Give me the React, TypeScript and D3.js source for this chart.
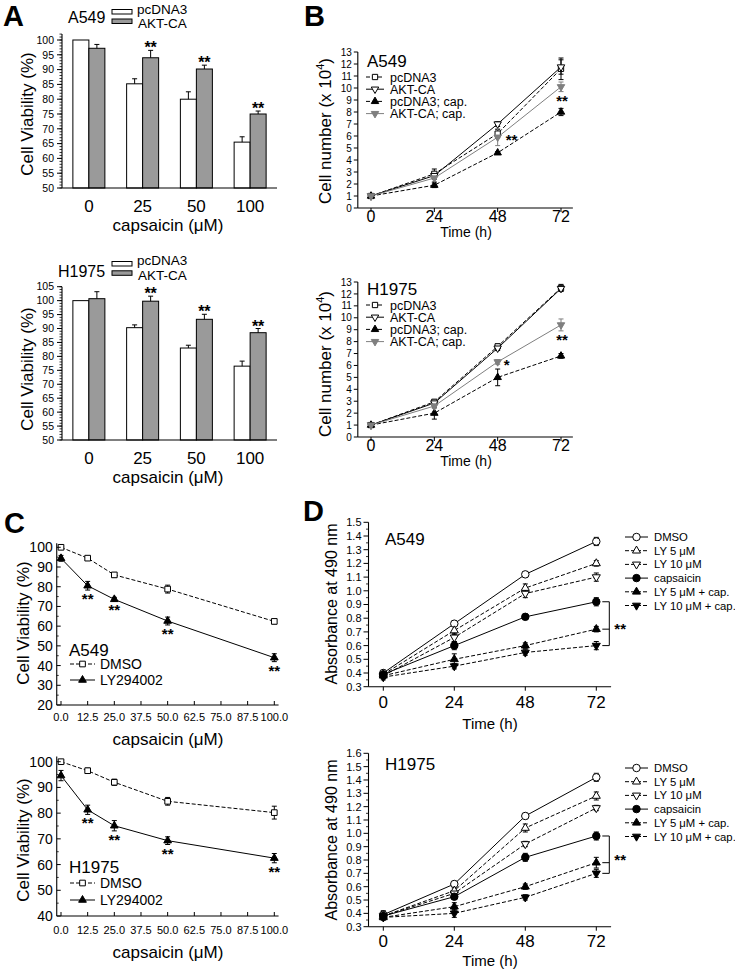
import React from "react";
import * as d3 from "d3";

const FONT = "Arial, 'Liberation Sans', Helvetica, sans-serif";
const GRAY_BAR = "#9a9a9a";
const GRAY_LINE = "#7f7f7f";

// ---------------- Panel A data ----------------
const doseLabels = ["0", "25", "50", "100"];
const barGroups = ["pcDNA3", "AKT-CA"];
const barA549Pc = [100, 85.2, 80.0, 65.5];
const barA549PcErr = [0, 1.7, 2.5, 1.8];
const barA549Akt = [97.2, 94.0, 90.2, 75.0];
const barA549AktErr = [1.3, 2.5, 1.3, 1.0];
const barA549Sig = ["", "**", "**", "**"];
const barH1975Pc = [100, 90.3, 83.0, 76.5];
const barH1975PcErr = [0, 1.0, 1.0, 1.8];
const barH1975Akt = [100.7, 99.8, 93.3, 88.5];
const barH1975AktErr = [2.5, 1.8, 1.8, 1.5];
const barH1975Sig = ["", "**", "**", "**"];
const barTicksA549 = [50, 55, 60, 65, 70, 75, 80, 85, 90, 95, 100];
const barTicksH1975 = [50, 55, 60, 65, 70, 75, 80, 85, 90, 95, 100, 105];

// ---------------- Panel B data ----------------
const hours = [0, 24, 48, 72];
const growthNames = ["pcDNA3", "AKT-CA", "pcDNA3; cap.", "AKT-CA; cap."];
const growthA549Pc = [1.0, 2.85, 6.2, 11.6];
const growthA549PcErr = [0.1, 0.4, 0.35, 0.9];
const growthA549Akt = [1.0, 2.7, 7.0, 11.75];
const growthA549AktErr = [0.1, 0.3, 0.2, 0.6];
const growthA549PcCap = [1.0, 1.9, 4.6, 8.0];
const growthA549PcCapErr = [0.1, 0.2, 0.1, 0.3];
const growthA549AktCap = [1.0, 2.5, 5.9, 10.1];
const growthA549AktCapErr = [0.1, 0.3, 0.7, 0.4];
const growthA549Sig = ["", "", "**", "**"];
const growthH1975Pc = [1.0, 2.95, 7.6, 12.5];
const growthH1975PcErr = [0.1, 0.2, 0.2, 0.3];
const growthH1975Akt = [1.0, 2.85, 7.45, 12.45];
const growthH1975AktErr = [0.1, 0.2, 0.2, 0.2];
const growthH1975PcCap = [1.0, 2.0, 5.0, 6.8];
const growthH1975PcCapErr = [0.1, 0.5, 0.7, 0.2];
const growthH1975AktCap = [1.0, 2.6, 6.3, 9.4];
const growthH1975AktCapErr = [0.1, 0.2, 0.2, 0.5];
const growthH1975Sig = ["", "", "*", "**"];
const growthTicks = [0, 1, 2, 3, 4, 5, 6, 7, 8, 9, 10, 11, 12, 13];

// ---------------- Panel C data ----------------
const doses = [0, 12.5, 25, 50, 100];
const doseTicks = [0, 12.5, 25, 37.5, 50, 62.5, 75, 87.5, 100];
const lyNames = ["DMSO", "LY294002"];
const lyA549Dmso = [100, 94.5, 86.0, 78.8, 62.4];
const lyA549DmsoErr = [0.5, 1.0, 1.2, 2.0, 1.2];
const lyA549Ly = [94.4, 80.5, 73.6, 62.6, 44.0];
const lyA549LyErr = [1.5, 2.2, 1.0, 2.0, 2.0];
const lyA549Sig = ["", "**", "**", "**", "**"];
const lyH1975Dmso = [100, 96.5, 92.0, 84.6, 80.2];
const lyH1975DmsoErr = [0.5, 1.0, 1.2, 1.5, 2.5];
const lyH1975Ly = [94.6, 81.3, 75.1, 69.3, 62.5];
const lyH1975LyErr = [2.0, 1.8, 2.0, 1.5, 1.8];
const lyH1975Sig = ["", "**", "**", "**", "**"];
const lyTicksA549 = [20, 30, 40, 50, 60, 70, 80, 90, 100];
const lyTicksH1975 = [40, 50, 60, 70, 80, 90, 100];

// ---------------- Panel D data ----------------
const absNames = ["DMSO", "LY 5 μM", "LY 10 μM", "capsaicin", "LY 5 μM + cap.", "LY 10 μM + cap."];
const absA549Dmso = [0.40, 0.76, 1.12, 1.36];
const absA549Ly5 = [0.39, 0.71, 1.02, 1.20];
const absA549Ly10 = [0.38, 0.66, 0.98, 1.10];
const absA549Cap = [0.39, 0.60, 0.81, 0.92];
const absA549Ly5Cap = [0.38, 0.50, 0.60, 0.72];
const absA549Ly10Cap = [0.37, 0.45, 0.55, 0.60];
const absA549DmsoErr = [0.02, 0.02, 0.02, 0.03];
const absA549Ly5Err = [0.02, 0.03, 0.03, 0.02];
const absA549Ly10Err = [0.02, 0.03, 0.03, 0.03];
const absA549CapErr = [0.02, 0.03, 0.02, 0.03];
const absA549Ly5CapErr = [0.02, 0.04, 0.02, 0.02];
const absA549Ly10CapErr = [0.02, 0.02, 0.02, 0.03];
const absH1975Dmso = [0.39, 0.62, 1.13, 1.42];
const absH1975Ly5 = [0.38, 0.57, 1.04, 1.28];
const absH1975Ly10 = [0.38, 0.55, 0.92, 1.19];
const absH1975Cap = [0.38, 0.525, 0.82, 0.98];
const absH1975Ly5Cap = [0.37, 0.45, 0.60, 0.78];
const absH1975Ly10Cap = [0.37, 0.40, 0.52, 0.70];
const absH1975DmsoErr = [0.03, 0.02, 0.02, 0.03];
const absH1975Ly5Err = [0.02, 0.02, 0.03, 0.03];
const absH1975Ly10Err = [0.02, 0.02, 0.02, 0.02];
const absH1975CapErr = [0.02, 0.02, 0.03, 0.03];
const absH1975Ly5CapErr = [0.02, 0.03, 0.02, 0.04];
const absH1975Ly10CapErr = [0.02, 0.03, 0.02, 0.03];
const absTicksA549 = [0.3, 0.4, 0.5, 0.6, 0.7, 0.8, 0.9, 1.0, 1.1, 1.2, 1.3, 1.4, 1.5];
const absTicksH1975 = [0.3, 0.4, 0.5, 0.6, 0.7, 0.8, 0.9, 1.0, 1.1, 1.2, 1.3, 1.4, 1.5, 1.6];

// ---------------- helpers ----------------
type Lin = d3.ScaleLinear<number, number>;
interface Style {
  shape: string;
  fill: string;
  stroke: string;
  dash?: string;
  area: number;
}

function symPath(shape: string, area: number) {
  const t = shape === "circle" ? d3.symbolCircle : shape === "square" ? d3.symbolSquare : d3.symbolTriangle;
  return d3.symbol().type(t).size(area)() as string;
}

function Marker({ st, x, y }: { st: Style; x: number; y: number }) {
  const rot = st.shape === "triDown" ? 180 : 0;
  return (
    <path
      d={symPath(st.shape, st.area)}
      transform={`translate(${x},${y}) rotate(${rot})`}
      fill={st.fill}
      stroke={st.stroke}
      strokeWidth={1}
    />
  );
}

function YAxis(props: {
  ys: Lin; x: number; ticks: number[]; minor?: number[]; fmt?: (v: number) => string;
  fs: number; len?: number; minLen?: number; inward?: boolean; top: number; bottom: number; gap?: number;
}) {
  const { ys, x, ticks, minor = [], fmt = (v) => String(v), fs, len = 4, minLen = 2, inward = false, top, bottom, gap = 3 } = props;
  const d = inward ? 1 : -1;
  const labelX = x - (inward ? 0 : len) - gap;
  return (
    <g>
      {minor.map((v, i) => (
        <line key={"m" + i} x1={x} x2={x + d * minLen} y1={ys(v)} y2={ys(v)} stroke="#000" strokeWidth={0.8} />
      ))}
      {ticks.map((v, i) => (
        <g key={i}>
          <line x1={x} x2={x + d * len} y1={ys(v)} y2={ys(v)} stroke="#000" strokeWidth={1} />
          <text x={labelX} y={ys(v)} dy="0.36em" textAnchor="end" fontSize={fs}>
            {fmt(v)}
          </text>
        </g>
      ))}
      <line x1={x} x2={x} y1={ys(top)} y2={ys(bottom)} stroke="#000" strokeWidth={1.1} />
    </g>
  );
}

function XAxis(props: {
  xs: Lin; y: number; ticks: number[]; fmt?: (v: number) => string; fs: number; len?: number;
  inward?: boolean; from: number; to: number; labelY: number;
}) {
  const { xs, y, ticks, fmt = (v) => String(v), fs, len = 4, inward = false, from, to, labelY } = props;
  const d = inward ? -1 : 1;
  return (
    <g>
      {ticks.map((v, i) => (
        <g key={i}>
          <line x1={xs(v)} x2={xs(v)} y1={y} y2={y + d * len} stroke="#000" strokeWidth={1} />
          <text x={xs(v)} y={labelY} textAnchor="middle" fontSize={fs}>
            {fmt(v)}
          </text>
        </g>
      ))}
      <line x1={xs(from)} x2={xs(to)} y1={y} y2={y} stroke="#000" strokeWidth={1.1} />
    </g>
  );
}

interface SeriesDef {
  values: number[];
  errs: number[];
  st: Style;
  name: string;
}

function Plot({ xs, ys, xv, series, cap = 2.5 }: { xs: Lin; ys: Lin; xv: number[]; series: SeriesDef[]; cap?: number }) {
  return (
    <g>
      {series.map((s, k) => {
        const line = d3
          .line<number>()
          .x((_, i) => xs(xv[i]))
          .y((v) => ys(v));
        return <path key={"l" + k} d={line(s.values) as string} fill="none" stroke={s.st.stroke} strokeWidth={1} strokeDasharray={s.st.dash} />;
      })}
      {series.map((s, k) =>
        s.values.map((v, i) => {
          const x = xs(xv[i]);
          const y1 = ys(v - s.errs[i]);
          const y2 = ys(v + s.errs[i]);
          return (
            <g key={"e" + k + "_" + i} stroke={s.st.stroke} strokeWidth={1}>
              <line x1={x} x2={x} y1={y1} y2={y2} />
              <line x1={x - cap} x2={x + cap} y1={y1} y2={y1} />
              <line x1={x - cap} x2={x + cap} y1={y2} y2={y2} />
            </g>
          );
        })
      )}
      {series.map((s, k) =>
        s.values.map((v, i) => <Marker key={"p" + k + "_" + i} st={s.st} x={xs(xv[i])} y={ys(v)} />)
      )}
    </g>
  );
}

function LegendRow({ x1, x2, y, tx, label, st, fs }: { x1: number; x2: number; y: number; tx: number; label: string; st: Style; fs: number }) {
  return (
    <g>
      <line x1={x1} x2={x2} y1={y} y2={y} stroke={st.stroke} strokeWidth={1} strokeDasharray={st.dash} />
      <Marker st={st} x={(x1 + x2) / 2} y={y} />
      <text x={tx} y={y} dy="0.36em" fontSize={fs}>
        {label}
      </text>
    </g>
  );
}

// ---------------- Panel A ----------------
function BarPanel(p: {
  yMax: number; yMaxPx: number; yBottom: number; axisTop: number; ticks: number[];
  title: string; titleX: number; titleY: number; legY: number[]; legTextY: number[];
  pc: number[]; pcErr: number[]; akt: number[]; aktErr: number[]; sig: string[];
  xLabY: number; capY: number; yLabY: number;
}) {
  const ys = d3.scaleLinear().domain([50, p.yMax]).range([p.yBottom, p.yMaxPx]);
  const xb = d3.scaleBand<string>().domain(doseLabels).range([62, 277]);
  const sub = d3.scaleBand<string>().domain(barGroups).range([0, 32]);
  const minor = d3.range(50, p.axisTop + 0.01, 1);
  const sets = [
    { vals: p.pc, errs: p.pcErr, fill: "#fff", g: barGroups[0] },
    { vals: p.akt, errs: p.aktErr, fill: GRAY_BAR, g: barGroups[1] },
  ];
  return (
    <g>
      {sets.map((s, k) =>
        s.vals.map((v, i) => {
          const x0 = (xb(doseLabels[i]) as number) + xb.bandwidth() / 2 - 16 + (sub(s.g) as number);
          const w = sub.bandwidth();
          const cx = x0 + w / 2;
          const top = ys(v + s.errs[i]);
          return (
            <g key={k + "_" + i}>
              <rect x={x0} y={ys(v)} width={w} height={ys(50) - ys(v)} fill={s.fill} stroke="#000" strokeWidth={1} />
              {s.errs[i] > 0 && (
                <g stroke="#000" strokeWidth={1}>
                  <line x1={cx} x2={cx} y1={ys(v)} y2={top} />
                  <line x1={cx - 2.5} x2={cx + 2.5} y1={top} y2={top} />
                </g>
              )}
              {k === 1 && p.sig[i] && (
                <text x={cx} y={top + 3} textAnchor="middle" fontSize={16} fontWeight="bold">
                  {p.sig[i]}
                </text>
              )}
            </g>
          );
        })
      )}
      <YAxis ys={ys} x={62} ticks={p.ticks} minor={minor} fs={10.5} len={5} minLen={2.5} top={p.axisTop} bottom={50} gap={3} />
      <line x1={62} x2={277} y1={ys(50)} y2={ys(50)} stroke="#000" strokeWidth={1.1} />
      {doseLabels.map((d, i) => (
        <text key={i} x={(xb(d) as number) + xb.bandwidth() / 2} y={p.xLabY} textAnchor="middle" fontSize={17}>
          {d}
        </text>
      ))}
      <text x={168} y={p.capY} textAnchor="middle" fontSize={17}>
        capsaicin (μM)
      </text>
      <text transform={`translate(33,${p.yLabY}) rotate(-90)`} textAnchor="middle" fontSize={17}>
        Cell Viability (%)
      </text>
      <text x={p.titleX} y={p.titleY} fontSize={16}>
        {p.title}
      </text>
      <rect x={112} y={p.legY[0]} width={20} height={4.5} fill="#fff" stroke="#000" strokeWidth={1} />
      <rect x={112} y={p.legY[1]} width={20} height={4.5} fill={GRAY_BAR} stroke="#000" strokeWidth={1} />
      <text x={137} y={p.legTextY[0]} fontSize={13.5}>
        {barGroups[0]}
      </text>
      <text x={138} y={p.legTextY[1]} fontSize={13.5}>
        {barGroups[1]}
      </text>
    </g>
  );
}

// ---------------- Panel B ----------------
const bStyles: Style[] = [
  { shape: "square", fill: "#fff", stroke: "#000", dash: "4,2", area: 28 },
  { shape: "triDown", fill: "#fff", stroke: "#000", area: 24 },
  { shape: "triUp", fill: "#000", stroke: "#000", dash: "4,2", area: 24 },
  { shape: "triDown", fill: GRAY_LINE, stroke: GRAY_LINE, area: 24 },
];

function GrowthPanel(p: {
  y0: number; y13: number; title: string; titleY: number; legY0: number;
  data: number[][]; errs: number[][]; sig: string[]; xLabY: number; timeY: number; yLabY: number;
}) {
  const xs = d3.scaleLinear().domain([0, 72]).range([371, 561]);
  const ys = d3.scaleLinear().domain([0, 13]).range([p.y0, p.y13]);
  const series: SeriesDef[] = p.data.map((d, k) => ({ values: d, errs: p.errs[k], st: bStyles[k], name: growthNames[k] }));
  const capSeries = p.data[3];
  const capErr = p.errs[3];
  return (
    <g>
      <Plot xs={xs} ys={ys} xv={hours} series={series} cap={2.5} />
      <YAxis ys={ys} x={xs(-5)} ticks={growthTicks} fs={10} len={4} top={13} bottom={0} gap={2} />
      <XAxis xs={xs} y={p.y0} ticks={hours} fs={16} len={4} from={-5} to={76.5} labelY={p.xLabY} />
      {p.sig.map((s, i) => {
        if (!s) return null;
        const px = xs(hours[i]);
        if (i === 2) {
          return (
            <text key={i} x={px + (s.length > 1 ? 8 : 6)} y={ys(capSeries[i]) + 8} fontSize={15} fontWeight="bold">
              {s}
            </text>
          );
        }
        return (
          <text key={i} x={px + 1} y={ys(capSeries[i] - capErr[i]) + 14} textAnchor="middle" fontSize={15} fontWeight="bold">
            {s}
          </text>
        );
      })}
      <text x={466} y={p.timeY} textAnchor="middle" fontSize={14}>
        Time (h)
      </text>
      <text transform={`translate(331,${p.yLabY}) rotate(-90)`} textAnchor="middle" fontSize={17}>
        Cell number (x 10
        <tspan dy={-7} fontSize={11}>
          4
        </tspan>
        <tspan dy={7}>)</tspan>
      </text>
      <text x={367} y={p.titleY} fontSize={17}>
        {p.title}
      </text>
      {growthNames.map((n, k) => (
        <LegendRow key={k} x1={366} x2={384} y={p.legY0 + k * 12.2} tx={390} label={n} st={bStyles[k]} fs={12.5} />
      ))}
    </g>
  );
}

// ---------------- Panel C ----------------
const cStyles: Style[] = [
  { shape: "square", fill: "#fff", stroke: "#000", dash: "4,2", area: 32 },
  { shape: "triUp", fill: "#000", stroke: "#000", area: 26 },
];

function LyPanel(p: {
  yMin: number; yMinPx: number; y100Px: number; ticks: number[]; title: string; titleY: number;
  legY: number[]; data: number[][]; errs: number[][]; sig: string[]; xLabY: number; capY: number; yLabY: number;
}) {
  const xs = d3.scaleLinear().domain([0, 100]).range([61, 274.3]);
  const ys = d3.scaleLinear().domain([p.yMin, 100]).range([p.yMinPx, p.y100Px]);
  const series: SeriesDef[] = p.data.map((d, k) => ({ values: d, errs: p.errs[k], st: cStyles[k], name: lyNames[k] }));
  const minor = d3.range(p.yMin + 5, 101, 10);
  const fmt = (v: number) => v.toFixed(1);
  return (
    <g>
      <Plot xs={xs} ys={ys} xv={doses} series={series} cap={2.5} />
      <YAxis ys={ys} x={xs(-2)} ticks={p.ticks} minor={minor} fs={14} len={4} minLen={2} inward top={102} bottom={p.yMin} gap={4} />
      <XAxis xs={xs} y={p.yMinPx} ticks={doseTicks} fmt={fmt} fs={11} len={4} inward from={-2} to={102} labelY={p.xLabY} />
      {p.sig.map((s, i) =>
        s ? (
          <text key={i} x={xs(doses[i])} y={ys(p.data[1][i] - p.errs[1][i]) + 14} textAnchor="middle" fontSize={15} fontWeight="bold">
            {s}
          </text>
        ) : null
      )}
      <text x={168} y={p.capY} textAnchor="middle" fontSize={17}>
        capsaicin (μM)
      </text>
      <text transform={`translate(29,${p.yLabY}) rotate(-90)`} textAnchor="middle" fontSize={17}>
        Cell Viability (%)
      </text>
      <text x={69} y={p.titleY} fontSize={17}>
        {p.title}
      </text>
      {lyNames.map((n, k) => (
        <LegendRow key={k} x1={70} x2={95} y={p.legY[k]} tx={100} label={n} st={cStyles[k]} fs={14} />
      ))}
    </g>
  );
}

// ---------------- Panel D ----------------
const dStyles: Style[] = [
  { shape: "circle", fill: "#fff", stroke: "#000", area: 44 },
  { shape: "triUp", fill: "#fff", stroke: "#000", dash: "4,2", area: 28 },
  { shape: "triDown", fill: "#fff", stroke: "#000", dash: "4,2", area: 28 },
  { shape: "circle", fill: "#000", stroke: "#000", area: 44 },
  { shape: "triUp", fill: "#000", stroke: "#000", dash: "4,2", area: 28 },
  { shape: "triDown", fill: "#000", stroke: "#000", dash: "4,2", area: 28 },
];

function AbsPanel(p: {
  yMax: number; yMaxPx: number; y03Px: number; ticks: number[]; title: string; titleY: number; legY0: number;
  data: number[][]; errs: number[][]; xLabY: number; timeY: number; yLabY: number;
}) {
  const xs = d3.scaleLinear().domain([0, 72]).range([383.3, 596.3]);
  const ys = d3.scaleLinear().domain([0.3, p.yMax]).range([p.y03Px, p.yMaxPx]);
  const series: SeriesDef[] = p.data.map((d, k) => ({ values: d, errs: p.errs[k], st: dStyles[k], name: absNames[k] }));
  const minor = d3.range(0.35, p.yMax, 0.1);
  const fmt = (v: number) => v.toFixed(1);
  const bx = xs(72);
  const yA = ys(p.data[3][3]);
  const yB = ys(p.data[4][3]);
  const yC = ys(p.data[5][3]);
  return (
    <g>
      <Plot xs={xs} ys={ys} xv={hours} series={series} cap={2.5} />
      <YAxis ys={ys} x={xs(-5)} ticks={p.ticks} minor={minor} fmt={fmt} fs={11} len={5} minLen={2.5} top={p.yMax} bottom={0.3} gap={2} />
      <XAxis xs={xs} y={p.y03Px} ticks={hours} fs={17} len={4} from={-5} to={77} labelY={p.xLabY} />
      <g stroke="#000" strokeWidth={1} fill="none">
        <line x1={bx + 6} x2={bx + 13} y1={yA} y2={yA} />
        <line x1={bx + 6} x2={bx + 13} y1={yB} y2={yB} />
        <line x1={bx + 6} x2={bx + 13} y1={yC} y2={yC} />
        <line x1={bx + 13} x2={bx + 13} y1={yA} y2={yC} />
      </g>
      <text x={bx + 18} y={(yA + yC) / 2 + 10} fontSize={15} fontWeight="bold">
        **
      </text>
      <text x={490} y={p.timeY} textAnchor="middle" fontSize={15}>
        Time (h)
      </text>
      <text transform={`translate(337,${p.yLabY}) rotate(-90)`} textAnchor="middle" fontSize={16}>
        Absorbance at 490 nm
      </text>
      <text x={385} y={p.titleY} fontSize={17}>
        {p.title}
      </text>
      {absNames.map((n, k) => (
        <LegendRow key={k} x1={625} x2={648} y={p.legY0 + k * 13.7} tx={654} label={n} st={dStyles[k]} fs={11.3} />
      ))}
    </g>
  );
}

export default function App() {
  return (
    <svg
      width={735}
      height={970}
      viewBox="0 0 735 970"
      style={{ position: "absolute", left: 0, top: 0, display: "block" }}
      fontFamily={FONT}
    >
      <rect width={735} height={970} fill="#fff" />

      {/* Panel letters */}
      <text x={3} y={26} fontSize={29} fontWeight="bold">A</text>
      <text x={304} y={26} fontSize={29} fontWeight="bold">B</text>
      <text x={4} y={533} fontSize={29} fontWeight="bold">C</text>
      <text x={303} y={521} fontSize={29} fontWeight="bold">D</text>

      <BarPanel
        yMax={100} yMaxPx={40} yBottom={188} axisTop={102} ticks={barTicksA549}
        title="A549" titleX={68} titleY={23} legY={[9.5, 19]} legTextY={[13.5, 28]}
        pc={barA549Pc} pcErr={barA549PcErr} akt={barA549Akt} aktErr={barA549AktErr} sig={barA549Sig}
        xLabY={212} capY={231} yLabY={114}
      />
      <BarPanel
        yMax={105} yMaxPx={286.7} yBottom={440} axisTop={105} ticks={barTicksH1975}
        title="H1975" titleX={58} titleY={277} legY={[261.5, 270.8]} legTextY={[264.5, 280]}
        pc={barH1975Pc} pcErr={barH1975PcErr} akt={barH1975Akt} aktErr={barH1975AktErr} sig={barH1975Sig}
        xLabY={464} capY={483} yLabY={369}
      />

      <GrowthPanel
        y0={208} y13={52} title="A549" titleY={67} legY0={77}
        data={[growthA549Pc, growthA549Akt, growthA549PcCap, growthA549AktCap]}
        errs={[growthA549PcErr, growthA549AktErr, growthA549PcCapErr, growthA549AktCapErr]}
        sig={growthA549Sig} xLabY={222} timeY={237} yLabY={131}
      />
      <GrowthPanel
        y0={437} y13={282} title="H1975" titleY={295} legY0={305}
        data={[growthH1975Pc, growthH1975Akt, growthH1975PcCap, growthH1975AktCap]}
        errs={[growthH1975PcErr, growthH1975AktErr, growthH1975PcCapErr, growthH1975AktCapErr]}
        sig={growthH1975Sig} xLabY={451} timeY={466} yLabY={364}
      />

      <LyPanel
        yMin={20} yMinPx={705} y100Px={547.3} ticks={lyTicksA549} title="A549" titleY={656} legY={[664, 680]}
        data={[lyA549Dmso, lyA549Ly]} errs={[lyA549DmsoErr, lyA549LyErr]} sig={lyA549Sig}
        xLabY={721} capY={745} yLabY={623}
      />
      <LyPanel
        yMin={40} yMinPx={916} y100Px={761.7} ticks={lyTicksH1975} title="H1975" titleY={873} legY={[883, 900]}
        data={[lyH1975Dmso, lyH1975Ly]} errs={[lyH1975DmsoErr, lyH1975LyErr]} sig={lyH1975Sig}
        xLabY={934} capY={958} yLabY={840}
      />

      <AbsPanel
        yMax={1.5} yMaxPx={522.3} y03Px={686.7} ticks={absTicksA549} title="A549" titleY={545} legY0={537}
        data={[absA549Dmso, absA549Ly5, absA549Ly10, absA549Cap, absA549Ly5Cap, absA549Ly10Cap]}
        errs={[absA549DmsoErr, absA549Ly5Err, absA549Ly10Err, absA549CapErr, absA549Ly5CapErr, absA549Ly10CapErr]}
        xLabY={708} timeY={729} yLabY={604}
      />
      <AbsPanel
        yMax={1.6} yMaxPx={753.3} y03Px={926.7} ticks={absTicksH1975} title="H1975" titleY={770} legY0={768}
        data={[absH1975Dmso, absH1975Ly5, absH1975Ly10, absH1975Cap, absH1975Ly5Cap, absH1975Ly10Cap]}
        errs={[absH1975DmsoErr, absH1975Ly5Err, absH1975Ly10Err, absH1975CapErr, absH1975Ly5CapErr, absH1975Ly10CapErr]}
        xLabY={947} timeY={966} yLabY={840}
      />
    </svg>
  );
}
